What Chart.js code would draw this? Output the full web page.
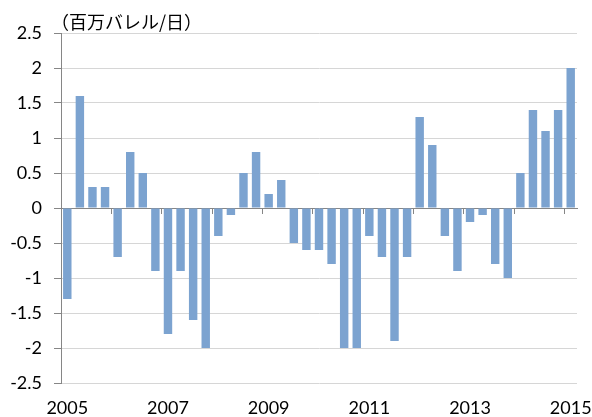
<!DOCTYPE html>
<html>
<head>
<meta charset="utf-8">
<script src="https://cdn.jsdelivr.net/npm/chart.js@4/dist/chart.umd.min.js"></script>
<style>
  html, body { margin: 0; padding: 0; background: #fff; }
  #wrap { position: relative; width: 592px; height: 417px; }
</style>
</head>
<body>
<div id="wrap"><canvas id="chart"></canvas></div>
<script>
// Quarterly values, 2005Q1 - 2015Q1
const quarters = [];
for (let y = 2005; y <= 2015; y++) {
    for (let q = 1; q <= 4; q++) {
        if (y === 2015 && q > 1) break;
        quarters.push(y + 'Q' + q);
    }
}
const values = [
    -1.3, 1.6, 0.3, 0.3,
    -0.7, 0.8, 0.5, -0.9,
    -1.8, -0.9, -1.6, -2.0,
    -0.4, -0.1, 0.5, 0.8,
    0.2, 0.4, -0.5, -0.6,
    -0.6, -0.8, -2.0, -2.0,
    -0.4, -0.7, -1.9, -0.7,
    1.3, 0.9, -0.4, -0.9,
    -0.2, -0.1, -0.8, -1.0,
    0.5, 1.4, 1.1, 1.4,
    2.0
];
const yTicks = { min: -2.5, max: 2.5, step: 0.5 };
const unitText = '（百万バレル/日）';

const AXIS_GRAY = '#868686';
const GRID_GRAY = '#d6d6d6';
const BAR_BLUE = '#7ca3d0';

// unit label drawn above the top-left corner of the plot
const unitLabel = {
    id: 'unitLabel',
    afterDraw(chart) {
        const ctx = chart.ctx;
        ctx.save();
        ctx.font = "18px 'Noto Sans CJK JP'";
        ctx.fillStyle = '#000';
        ctx.textBaseline = 'middle';
        ctx.textAlign = 'left';
        ctx.fillText(unitText, chart.chartArea.left - 10, 22);
        ctx.restore();
    }
};

new Chart(document.getElementById('chart'), {
    type: 'bar',
    data: {
        labels: quarters,
        datasets: [{
            data: values,
            backgroundColor: BAR_BLUE,
            borderWidth: 0,
            categoryPercentage: 1,
            barPercentage: 0.67
        }]
    },
    options: {
        responsive: true,
        maintainAspectRatio: false,
        animation: false,
        layout: { padding: { top: 33, right: 15, bottom: 0, left: 0 } },
        plugins: {
            legend: { display: false },
            tooltip: { enabled: false }
        },
        scales: {
            x: {
                type: 'category',
                offset: true,
                grid: { display: false, drawTicks: false },
                border: { display: false },
                afterFit: (s) => { s.height = 34; s.paddingLeft = 0; s.paddingRight = 0; },
                ticks: {
                    autoSkip: false,
                    maxRotation: 0,
                    padding: 16,
                    color: '#000',
                    font: { family: 'Lato', size: 18, lineHeight: 1 },
                    callback: function(value, index) {
                        return index % 8 === 0 ? quarters[index].slice(0, 4) : '';
                    }
                }
            },
            // zero line with year tick marks
            x2: {
                type: 'category',
                labels: quarters,
                position: { y: 0 },
                offset: true,
                afterFit: (s) => { s.height = 0; s.paddingLeft = 0; s.paddingRight = 0; },
                grid: {
                    offset: true,
                    drawOnChartArea: false,
                    drawTicks: true,
                    tickLength: 5,
                    color: 'transparent',
                    tickColor: (c) => (c.index !== undefined && c.index % 4 === 0) ? AXIS_GRAY : 'transparent'
                },
                border: { display: true, color: AXIS_GRAY, width: 1 },
                ticks: { display: false, autoSkip: false }
            },
            y: {
                min: yTicks.min,
                max: yTicks.max,
                afterFit: (s) => { s.width = 61; },
                grid: {
                    color: GRID_GRAY,
                    tickColor: AXIS_GRAY,
                    tickLength: 7
                },
                border: { color: AXIS_GRAY },
                ticks: {
                    stepSize: yTicks.step,
                    padding: 12,
                    color: '#000',
                    font: { family: 'Lato', size: 18 },
                    callback: (v) => v.toString()
                }
            }
        }
    },
    plugins: [unitLabel]
});
</script>
</body>
</html>
